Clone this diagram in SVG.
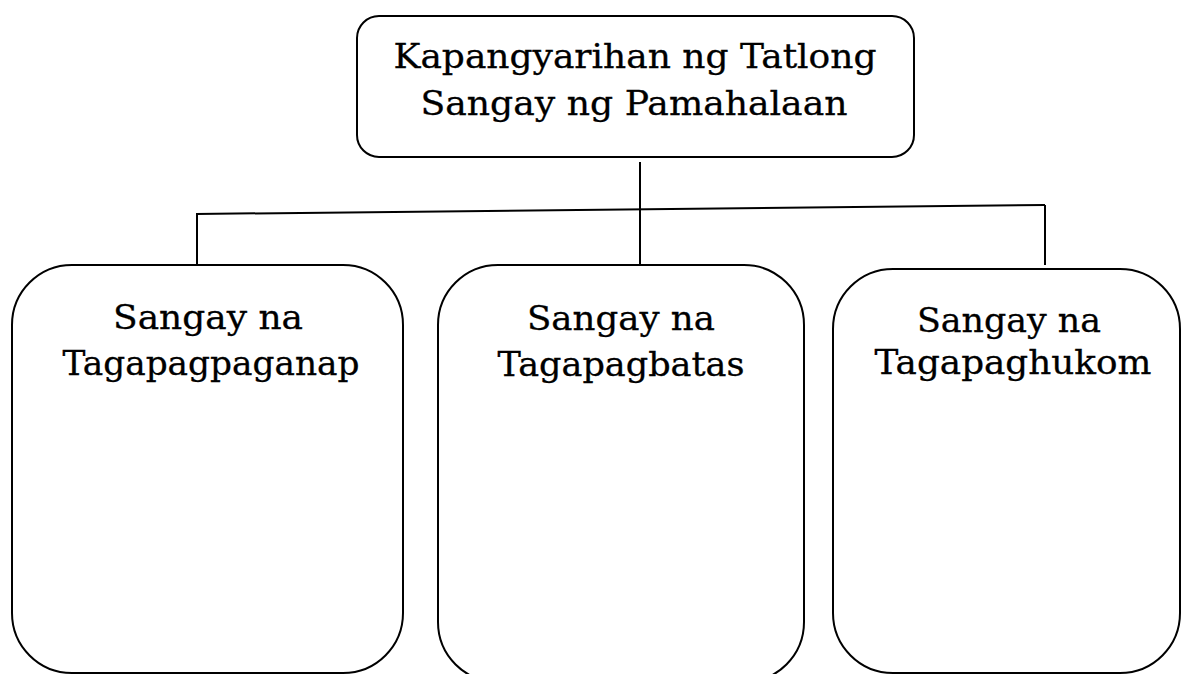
<svg xmlns="http://www.w3.org/2000/svg" width="1184" height="674" viewBox="0 0 1184 674">
<style>
.box{fill:#fff;stroke:#000;stroke-width:2}
.ln{stroke:#000;stroke-width:2;fill:none}
.t{font-family:"DejaVu Serif","Liberation Serif",serif;font-size:34px;fill:#000;stroke:#000;stroke-width:0.3;text-anchor:middle}
</style>
<rect width="1184" height="674" fill="#fff"/>
<g id="connectors">
<line class="ln" x1="640" y1="162" x2="640" y2="265"/>
<line class="ln" x1="196" y1="214" x2="1045" y2="205"/>
<line class="ln" x1="197" y1="213" x2="197" y2="265"/>
<line class="ln" x1="1045" y1="205" x2="1045" y2="265"/>
</g>
<g id="root">
<rect class="box" x="357" y="16" width="557" height="141" rx="22" ry="22"/>
<text class="t" x="635" y="68" textLength="483" lengthAdjust="spacingAndGlyphs">Kapangyarihan ng Tatlong</text>
<text class="t" x="634" y="115" textLength="427" lengthAdjust="spacingAndGlyphs">Sangay ng Pamahalaan</text>
</g>
<g id="tagapagpaganap">
<rect class="box" x="12" y="265" width="391" height="408" rx="60" ry="60"/>
<text class="t" x="208" y="329" textLength="190" lengthAdjust="spacingAndGlyphs">Sangay na</text>
<text class="t" x="211" y="375" textLength="297" lengthAdjust="spacingAndGlyphs">Tagapagpaganap</text>
</g>
<g id="tagapagbatas">
<rect class="box" x="438" y="265" width="366" height="417" rx="60" ry="60"/>
<text class="t" x="621" y="330" textLength="188" lengthAdjust="spacingAndGlyphs">Sangay na</text>
<text class="t" x="621" y="376" textLength="247" lengthAdjust="spacingAndGlyphs">Tagapagbatas</text>
</g>
<g id="tagapaghukom">
<rect class="box" x="833" y="269" width="347" height="404" rx="60" ry="60"/>
<text class="t" x="1009" y="332" textLength="184" lengthAdjust="spacingAndGlyphs">Sangay na</text>
<text class="t" x="1013" y="374" textLength="277" lengthAdjust="spacingAndGlyphs">Tagapaghukom</text>
</g>
</svg>
